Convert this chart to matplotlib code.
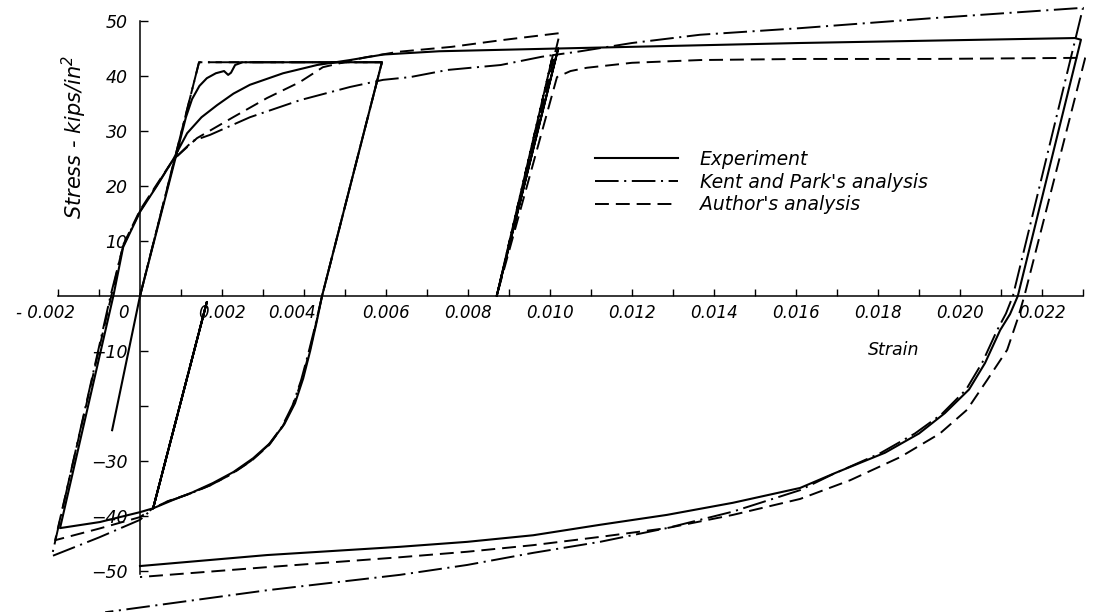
import matplotlib
matplotlib.use("Agg")
import matplotlib.pyplot as plt
from matplotlib.transforms import ScaledTranslation

plt.rcParams['font.family'] = ['DejaVu Sans']
plt.rcParams['font.style'] = 'italic'
plt.rcParams['mathtext.fontset'] = 'dejavusans'
plt.rcParams['mathtext.default'] = 'it'
plt.rcParams['lines.scale_dashes'] = False

# ---------------- data (strain, stress in kips/in^2) ----------------
exp_strain = [-0.00068, 0.0, 0.00098, 0.00112, 0.00127, 0.00145, 0.00163, 0.00185, 0.00205,
              0.00215, 0.00222, 0.00232, 0.00250, 0.00590,
              0.00444, 0.00430, 0.00415, 0.00398, 0.00378, 0.00352, 0.00318, 0.00276, 0.00228,
              0.00178, 0.00128, 0.00080, 0.00032, 0.00163, 0.00032, 0.0, -0.00098, -0.00195,
              -0.00065, -0.00041, 0.0, 0.00041, 0.00080, 0.00115, 0.00150, 0.00188, 0.00228,
              0.00268, 0.00349, 0.00432, 0.00512, 0.00593, 0.00730, 0.01020, 0.00870, 0.01020,
              0.01610, 0.02280, 0.02295, 0.02141, 0.02122, 0.02098, 0.02061, 0.02022, 0.01963,
              0.01900, 0.01817, 0.01695, 0.01610, 0.01446, 0.01285, 0.01122, 0.00959, 0.00798,
              0.00634, 0.00310, 0.0]
exp_stress = [-24.4, 0.0, 28.4, 32.5, 35.8, 38.2, 39.6, 40.5, 40.9,
              40.2, 40.6, 42.0, 42.5, 42.5,
              0.0, -5.0, -10.0, -15.0, -19.5, -23.3, -26.7, -29.5, -32.0,
              -34.0, -35.7, -37.1, -38.6, -1.1, -38.6, -39.3, -41.1, -42.2,
              0.0, 8.9, 15.3, 20.0, 24.7, 29.6, 32.5, 34.7, 36.8,
              38.4, 40.5, 42.0, 42.9, 43.9, 44.5, 45.0, 0.0, 45.0,
              46.0, 46.9, 46.6, 0.0, -3.3, -6.2, -12.2, -17.0, -21.3,
              -25.0, -28.5, -32.2, -34.9, -37.6, -39.8, -41.6, -43.5, -44.7,
              -45.6, -47.1, -49.1]

kp_strain = [0.0, 0.00144, 0.00590, 0.00444, 0.00428, 0.00411, 0.00393, 0.00372, 0.00346,
             0.00312, 0.00270, 0.00222, 0.00172, 0.00120, 0.00066, 0.00032, 0.00163, 0.00032,
             0.0, -0.00100, -0.00215, -0.00072, -0.00041, 0.0, 0.00041, 0.00080, 0.00129,
             0.00171, 0.00268, 0.00390, 0.00512, 0.00593, 0.00659, 0.00750, 0.00880, 0.00980,
             0.01007, 0.00870, 0.01007, 0.01066, 0.01200, 0.01366, 0.01610, 0.01930, 0.02300,
             0.02129, 0.02112, 0.02090, 0.02055, 0.02015, 0.01955, 0.01890, 0.01805, 0.01690,
             0.01610, 0.01446, 0.01285, 0.01122, 0.00959, 0.00798, 0.00634, 0.00310, -0.00085]
kp_stress = [0.0, 42.5, 42.5, 0.0, -5.2, -10.3, -15.3, -19.9, -23.8,
             -27.2, -30.0, -32.4, -34.4, -36.0, -37.4, -38.6, -1.1, -38.6,
             -40.7, -43.9, -47.3, 0.0, 9.1, 15.4, 20.1, 24.7, 28.2,
             29.3, 32.5, 35.6, 38.0, 39.3, 39.8, 41.1, 42.0, 43.5,
             43.8, 0.0, 43.8, 44.4, 46.0, 47.5, 48.7, 50.5, 52.4,
             0.0, -3.2, -6.3, -12.0, -17.0, -21.5, -25.0, -28.6, -32.4,
             -35.3, -39.2, -42.2, -44.7, -46.7, -48.9, -50.7, -53.5, -57.5]

au_strain = [0.0, 0.00144, 0.00590, 0.00444, 0.00429, 0.00413, 0.00395, 0.00374, 0.00348,
             0.00315, 0.00273, 0.00225, 0.00175, 0.00123, 0.00068, 0.00032, 0.00163, 0.00032,
             0.0, -0.00100, -0.00207, -0.00070, -0.00041, 0.0, 0.00041, 0.00080, 0.00139,
             0.00227, 0.00310, 0.00390, 0.00446, 0.00550, 0.00630, 0.00760, 0.00880, 0.01024,
             0.00870, 0.01017, 0.01050, 0.01090, 0.01200, 0.01366, 0.01610, 0.01930, 0.02290,
             0.02305, 0.02157, 0.02140, 0.02115, 0.02066, 0.02017, 0.01951, 0.01854, 0.01732,
             0.01610, 0.01446, 0.01285, 0.01122, 0.00959, 0.00798, 0.00634, 0.00310, 0.0]
au_stress = [0.0, 42.5, 42.5, 0.0, -5.1, -10.2, -15.2, -19.8, -23.7,
             -27.1, -29.9, -32.3, -34.3, -35.9, -37.3, -38.6, -1.1, -38.6,
             -40.2, -42.3, -44.4, 0.0, 9.3, 15.6, 20.3, 24.7, 28.7,
             32.5, 36.0, 38.9, 41.6, 43.4, 44.4, 45.3, 46.5, 47.8,
             0.0, 39.8, 40.9, 41.5, 42.4, 42.9, 43.1, 43.1, 43.3,
             43.2, 0.0, -4.3, -9.8, -15.3, -20.7, -25.0, -29.3, -33.5,
             -36.9, -39.8, -42.2, -43.8, -45.3, -46.5, -47.5, -49.3, -51.1]

x_minor_ticks = [i / 1000 for i in range(-2, 24)]
x_major_ticks = [-0.002, 0.0, 0.002, 0.004, 0.006, 0.008, 0.010, 0.012, 0.014,
                 0.016, 0.018, 0.020, 0.022]
x_tick_labels = ['- 0.002', '0', '0.002', '0.004', '0.006', '0.008', '0.010', '0.012',
                 '0.014', '0.016', '0.018', '0.020', '0.022']
y_ticks = [-50, -40, -30, -20, -10, 10, 20, 30, 40, 50]
y_tick_labels = ['\u221250', '\u221240', '\u221230', '', '\u221210', '10', '20', '30', '40', '50']
series_labels = ['Experiment', "Kent and Park's analysis", "Author's analysis"]

# ---------------- figure ----------------
fig = plt.figure(figsize=(10.96, 6.12), dpi=100)
ax = fig.add_axes([0, 0, 1, 1])
ax.set_xlim(-0.0034146, 0.023317)
ax.set_ylim(-57.4545, 53.818)
ax.set_facecolor('white')

l_exp, = ax.plot(exp_strain, exp_stress, color='black', lw=1.5, solid_joinstyle='round',
                 label=series_labels[0])
l_kp, = ax.plot(kp_strain, kp_stress, color='black', lw=1.4, label=series_labels[1])
l_kp.set_dashes([17, 4, 1.5, 4])
l_au, = ax.plot(au_strain, au_stress, color='black', lw=1.4, label=series_labels[2])
l_au.set_dashes([10, 5])

for s in ['top', 'right']:
    ax.spines[s].set_visible(False)
ax.spines['left'].set_position(('data', 0))
ax.spines['bottom'].set_position(('data', 0))
ax.spines['bottom'].set_bounds(-0.002, 0.023)
ax.spines['left'].set_bounds(-50.5, 50)
for s in ['left', 'bottom']:
    ax.spines[s].set_linewidth(1.1)

ax.set_xticks(x_major_ticks)
ax.set_xticklabels(x_tick_labels)
ax.set_xticks(x_minor_ticks, minor=True)
ax.set_yticks(y_ticks)
ax.set_yticklabels(y_tick_labels)
ax.tick_params(axis='x', which='both', direction='in', length=5, width=1.0, pad=6,
               labelsize=12)
ax.tick_params(axis='y', which='both', direction='in', length=6, width=1.0, pad=9,
               labelsize=12.5)

shift = {'- 0.002': -12, '0': -17, '0.004': -12}
for lab in ax.get_xticklabels():
    dx = shift.get(lab.get_text(), 0)
    if dx:
        lab.set_transform(lab.get_transform() + ScaledTranslation(dx / 100, 0, fig.dpi_scale_trans))

ax.text(0.01839, -9.8, 'Strain', ha='center', va='center', fontsize=12.5)
ax.text(-0.00159, 28.9, 'Stress - kips/in$^{2}$', rotation=90, ha='center', va='center',
        fontsize=15)

ax.legend(handles=[l_exp, l_kp, l_au], loc='upper left',
          bbox_to_anchor=(595 / 1096, 1 - 150 / 612), frameon=False, fontsize=13.5,
          borderpad=0, borderaxespad=0, handlelength=4.43, handletextpad=1.17,
          labelspacing=0.2)

fig.savefig('out.png', dpi=100, facecolor='white')
